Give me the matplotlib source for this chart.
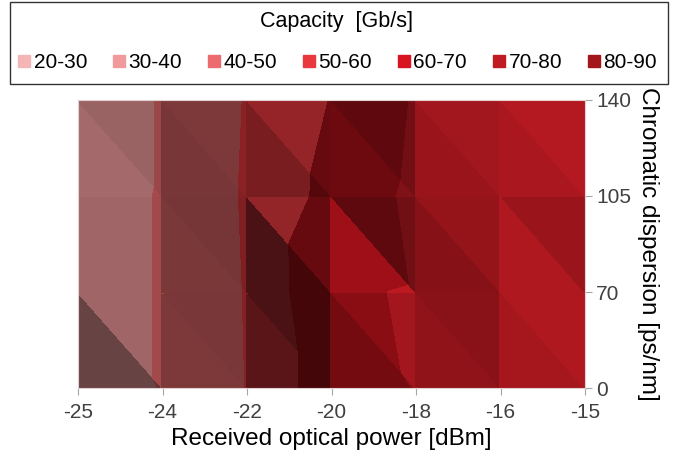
import numpy as np
import matplotlib
matplotlib.use("Agg")
import matplotlib.pyplot as plt
import matplotlib.tri as mtri
from matplotlib.lines import Line2D
from matplotlib.patches import Rectangle
from matplotlib.colors import to_rgb

plt.rcParams['font.family'] = ['Liberation Sans', 'DejaVu Sans']

# received optical power (categorical axis) and chromatic dispersion
power = ["-25", "-24", "-22", "-20", "-18", "-16", "-15"]
dispersion = ["0", "70", "105", "140"]

# capacity [Gb/s], one list per dispersion value, columns follow power
cap_0 = [31.0, 40.5, 50.2, 66.0, 70.2, 75.0, 76.0]
cap_70 = [36.0, 40.5, 50.5, 69.0, 70.5, 76.0, 76.0]
cap_105 = [36.0, 40.5, 51.0, 63.0, 72.0, 76.0, 78.0]
cap_140 = [35.0, 40.5, 50.5, 60.3, 70.8, 74.0, 75.0]

bands = [20, 30, 40, 50, 60, 70, 80, 90]
band_labels = ["20-30", "30-40", "40-50", "50-60", "60-70", "70-80", "80-90"]
legend_colors = ["#f4b5b7", "#f19a9c", "#ec6b6e", "#e8383e", "#d7141f", "#c01a22", "#a3161c"]
# tone of each band on the lit surface, relative to the legend swatch
band_tone = [0.87, 0.87, 0.9, 1.0, 0.75, 1.0, 1.0]

Z = np.array([cap_0, cap_70, cap_105, cap_140])
ny, nx = Z.shape
xx, yy = np.meshgrid(np.arange(nx), np.arange(ny))

fig = plt.figure(figsize=(6.76, 4.54), dpi=100)
ax = fig.add_axes([78 / 676, 1 - 388 / 454, 507 / 676, 288 / 454])

# simple lighting: facets rising to the right or upwards get darker
s0, ax_k, ay_k = 0.91, 0.033, 0.02

def facet(ids):
    px = xx.ravel()[ids].astype(float)
    py = yy.ravel()[ids].astype(float)
    pz = Z.ravel()[ids]
    A = np.column_stack([px, py, np.ones(3)])
    gx, gy, _ = np.linalg.solve(A, pz)
    shade = s0 - ax_k * gx - ay_k * gy
    cols = [tuple(np.clip(np.array(to_rgb(c)) * np.clip(t * shade, 0.32, 1.05), 0, 1))
            for c, t in zip(legend_colors, band_tone)]
    tri = mtri.Triangulation(px, py, [[0, 1, 2]])
    cs = ax.tricontourf(tri, pz, levels=bands, colors=cols)
    cs.set_edgecolor('face')
    cs.set_linewidth(0.8)

for j in range(ny - 1):
    for i in range(nx - 1):
        a = j * nx + i
        b = j * nx + i + 1
        c = (j + 1) * nx + i
        d = (j + 1) * nx + i + 1
        facet(np.array([a, b, c]))
        facet(np.array([b, d, c]))

ax.set_xlim(0, nx - 1)
ax.set_ylim(0, ny - 1)
ax.set_xticks(range(nx))
ax.set_xticklabels(power)
ax.set_yticks(range(ny))
ax.set_yticklabels(dispersion)
ax.yaxis.tick_right()
ax.yaxis.set_label_position('right')
ax.tick_params(axis='both', labelsize=15, colors='#a6a6a6', labelcolor='#404040',
               length=5, width=0.8)
ax.tick_params(axis='x', pad=6)
ax.tick_params(axis='y', pad=3)
for s in ax.spines.values():
    s.set_color('#e3d0d0')
    s.set_linewidth(0.8)
ax.set_xlabel("Received optical power [dBm]", fontsize=17.5, labelpad=4)
ax.set_ylabel("Chromatic dispersion [ps/nm]", fontsize=17.5, rotation=-90, labelpad=20)

# legend box drawn separately so the padding can match
fig.patches.append(Rectangle((10 / 676, 1 - 84 / 454), 658 / 676, 82 / 454,
                             transform=fig.transFigure, fill=False,
                             edgecolor='#333333', linewidth=1.0))
handles = [Line2D([], [], marker='s', linestyle='none', markersize=8,
                  markerfacecolor=c, markeredgecolor=c) for c in legend_colors]
leg = fig.legend(handles, band_labels, ncol=7, loc='upper left',
                 bbox_to_anchor=(17 / 676, 1 - 80 / 454, 640 / 676, 69 / 454),
                 mode='expand', title="Capacity  [Gb/s]", fontsize=15,
                 title_fontsize=15.5, frameon=False,
                 handletextpad=0.1, handlelength=0.7, borderaxespad=0,
                 columnspacing=0.5, borderpad=0.0, labelspacing=1.0)

fig.savefig("out.png", dpi=100)
